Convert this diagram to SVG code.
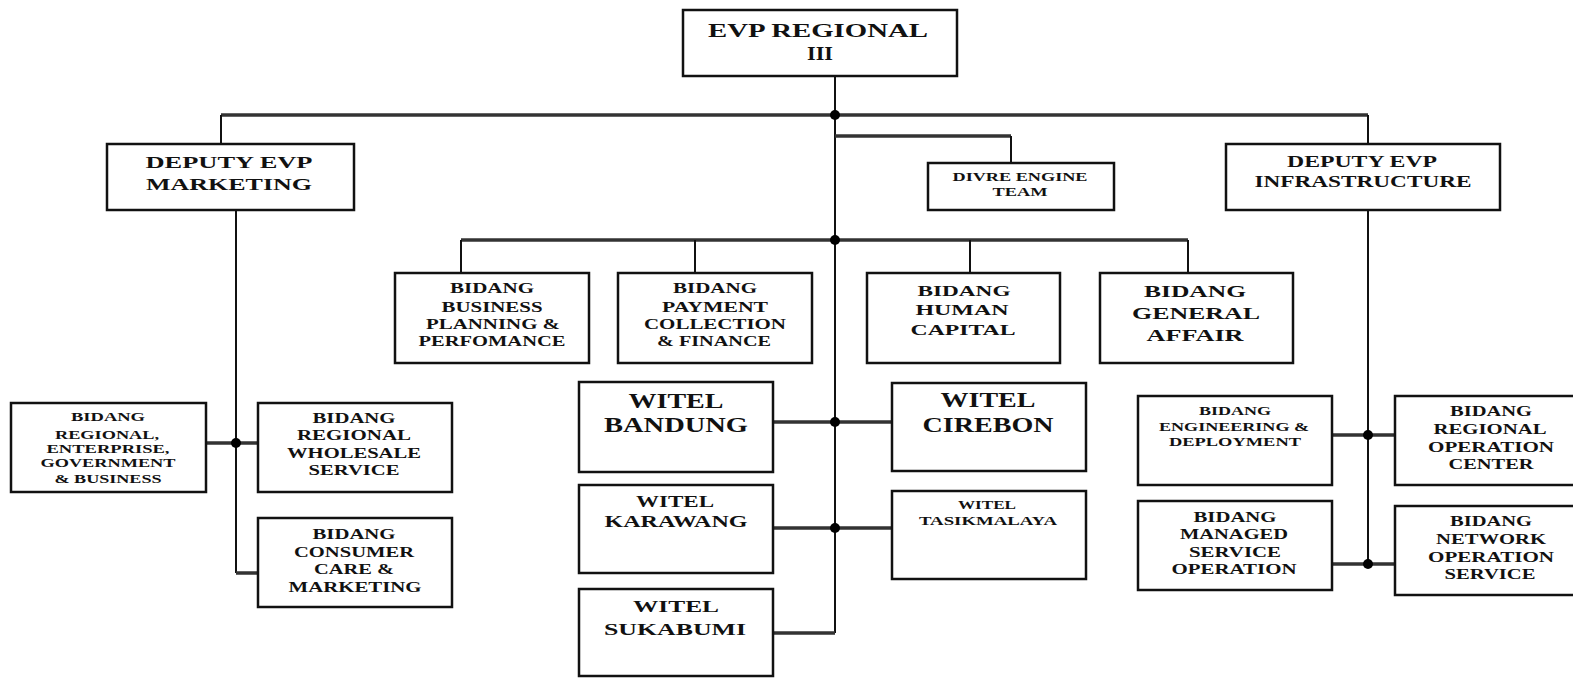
<svg xmlns="http://www.w3.org/2000/svg" width="1573" height="678" viewBox="0 0 1573 678">
<style>
.box{fill:#fff;stroke:#111;stroke-width:2.5}
.t{font-family:"Liberation Serif","Times New Roman",serif;font-weight:bold;fill:#111;text-anchor:middle;dominant-baseline:central}
.h{fill:none;stroke:#333;stroke-width:3.5}
.v{fill:none;stroke:#111;stroke-width:2}
.dot{fill:#000}
</style>
<rect width="1573" height="678" fill="#fff"/>
<g id="connectors">
<path class="v" d="M835 76V633"/>
<path class="h" d="M221 115H1368"/>
<path class="v" d="M221 115V144M1368 115V144"/>
<path class="h" d="M835 136H1011"/>
<path class="v" d="M1011 136V163"/>
<path class="h" d="M461 240H1188"/>
<path class="v" d="M461 240V273M695 240V273M970 240V273M1188 240V273"/>
<path class="v" d="M236 210V573"/>
<path class="h" d="M206 443H258M236 573H258"/>
<path class="h" d="M773 422H892M773 528H892M773 633H835"/>
<path class="v" d="M1368 210V564"/>
<path class="h" d="M1332 435H1395M1332 564H1395"/>
<circle class="dot" cx="835" cy="115" r="5"/>
<circle class="dot" cx="835" cy="240" r="5"/>
<circle class="dot" cx="236" cy="443" r="5"/>
<circle class="dot" cx="835" cy="422" r="5"/>
<circle class="dot" cx="835" cy="528" r="5"/>
<circle class="dot" cx="1368" cy="435" r="5"/>
<circle class="dot" cx="1368" cy="564" r="5"/>
</g>
<g id="evp">
<rect class="box" x="683" y="10" width="274" height="66"/>
<text class="t" font-size="19" x="818" y="30" textLength="220" lengthAdjust="spacingAndGlyphs">EVP REGIONAL</text>
<text class="t" font-size="19" x="820" y="53" textLength="26" lengthAdjust="spacingAndGlyphs">III</text>
</g>
<g id="deputy-marketing">
<rect class="box" x="107" y="144" width="247" height="66"/>
<text class="t" font-size="17" x="229" y="162" textLength="167" lengthAdjust="spacingAndGlyphs">DEPUTY EVP</text>
<text class="t" font-size="17" x="229" y="184" textLength="166" lengthAdjust="spacingAndGlyphs">MARKETING</text>
</g>
<g id="divre-engine">
<rect class="box" x="928" y="163" width="186" height="47"/>
<text class="t" font-size="12" x="1020" y="177" textLength="135" lengthAdjust="spacingAndGlyphs">DIVRE ENGINE</text>
<text class="t" font-size="12" x="1020" y="192" textLength="55" lengthAdjust="spacingAndGlyphs">TEAM</text>
</g>
<g id="deputy-infra">
<rect class="box" x="1226" y="144" width="274" height="66"/>
<text class="t" font-size="17" x="1362" y="161" textLength="150" lengthAdjust="spacingAndGlyphs">DEPUTY EVP</text>
<text class="t" font-size="17" x="1363" y="181" textLength="217" lengthAdjust="spacingAndGlyphs">INFRASTRUCTURE</text>
</g>
<g id="bidang-business">
<rect class="box" x="395" y="273" width="194" height="90"/>
<text class="t" font-size="14" x="492" y="288" textLength="84" lengthAdjust="spacingAndGlyphs">BIDANG</text>
<text class="t" font-size="14" x="492" y="307" textLength="101" lengthAdjust="spacingAndGlyphs">BUSINESS</text>
<text class="t" font-size="14" x="493" y="324" textLength="134" lengthAdjust="spacingAndGlyphs">PLANNING &amp;</text>
<text class="t" font-size="14" x="492" y="341" textLength="147" lengthAdjust="spacingAndGlyphs">PERFOMANCE</text>
</g>
<g id="bidang-payment">
<rect class="box" x="618" y="273" width="194" height="90"/>
<text class="t" font-size="14" x="715" y="288" textLength="84" lengthAdjust="spacingAndGlyphs">BIDANG</text>
<text class="t" font-size="14" x="715" y="307" textLength="106" lengthAdjust="spacingAndGlyphs">PAYMENT</text>
<text class="t" font-size="14" x="715" y="324" textLength="142" lengthAdjust="spacingAndGlyphs">COLLECTION</text>
<text class="t" font-size="14" x="714" y="341" textLength="114" lengthAdjust="spacingAndGlyphs">&amp; FINANCE</text>
</g>
<g id="bidang-human">
<rect class="box" x="867" y="273" width="193" height="90"/>
<text class="t" font-size="15" x="964" y="290.5" textLength="93" lengthAdjust="spacingAndGlyphs">BIDANG</text>
<text class="t" font-size="15" x="962" y="310" textLength="93" lengthAdjust="spacingAndGlyphs">HUMAN</text>
<text class="t" font-size="15" x="963" y="329.5" textLength="105" lengthAdjust="spacingAndGlyphs">CAPITAL</text>
</g>
<g id="bidang-general">
<rect class="box" x="1100" y="273" width="193" height="90"/>
<text class="t" font-size="17" x="1195" y="291.5" textLength="102" lengthAdjust="spacingAndGlyphs">BIDANG</text>
<text class="t" font-size="17" x="1196" y="313" textLength="128" lengthAdjust="spacingAndGlyphs">GENERAL</text>
<text class="t" font-size="17" x="1195" y="335" textLength="97" lengthAdjust="spacingAndGlyphs">AFFAIR</text>
</g>
<g id="bidang-regional-enterprise">
<rect class="box" x="11" y="403" width="195" height="89"/>
<text class="t" font-size="12" x="108" y="416.5" textLength="74" lengthAdjust="spacingAndGlyphs">BIDANG</text>
<text class="t" font-size="12" x="107" y="434.5" textLength="104" lengthAdjust="spacingAndGlyphs">REGIONAL,</text>
<text class="t" font-size="12" x="108" y="449" textLength="123" lengthAdjust="spacingAndGlyphs">ENTERPRISE,</text>
<text class="t" font-size="12" x="108" y="462.5" textLength="135" lengthAdjust="spacingAndGlyphs">GOVERNMENT</text>
<text class="t" font-size="12" x="108" y="478.5" textLength="107" lengthAdjust="spacingAndGlyphs">&amp; BUSINESS</text>
</g>
<g id="bidang-wholesale">
<rect class="box" x="258" y="403" width="194" height="89"/>
<text class="t" font-size="14" x="354" y="418" textLength="83" lengthAdjust="spacingAndGlyphs">BIDANG</text>
<text class="t" font-size="14" x="354" y="435.5" textLength="114" lengthAdjust="spacingAndGlyphs">REGIONAL</text>
<text class="t" font-size="14" x="354" y="453" textLength="134" lengthAdjust="spacingAndGlyphs">WHOLESALE</text>
<text class="t" font-size="14" x="354" y="470.5" textLength="91" lengthAdjust="spacingAndGlyphs">SERVICE</text>
</g>
<g id="bidang-consumer">
<rect class="box" x="258" y="518" width="194" height="89"/>
<text class="t" font-size="14" x="354" y="534" textLength="83" lengthAdjust="spacingAndGlyphs">BIDANG</text>
<text class="t" font-size="14" x="354" y="552" textLength="120" lengthAdjust="spacingAndGlyphs">CONSUMER</text>
<text class="t" font-size="14" x="354" y="569.5" textLength="80" lengthAdjust="spacingAndGlyphs">CARE &amp;</text>
<text class="t" font-size="14" x="355" y="587.5" textLength="133" lengthAdjust="spacingAndGlyphs">MARKETING</text>
</g>
<g id="witel-bandung">
<rect class="box" x="579" y="382" width="194" height="90"/>
<text class="t" font-size="21" x="676" y="400.5" textLength="95" lengthAdjust="spacingAndGlyphs">WITEL</text>
<text class="t" font-size="21" x="676" y="424.5" textLength="144" lengthAdjust="spacingAndGlyphs">BANDUNG</text>
</g>
<g id="witel-karawang">
<rect class="box" x="579" y="485" width="194" height="88"/>
<text class="t" font-size="17" x="675" y="501.5" textLength="78" lengthAdjust="spacingAndGlyphs">WITEL</text>
<text class="t" font-size="17" x="676" y="521" textLength="143" lengthAdjust="spacingAndGlyphs">KARAWANG</text>
</g>
<g id="witel-sukabumi">
<rect class="box" x="579" y="589" width="194" height="87"/>
<text class="t" font-size="17" x="676" y="606.5" textLength="86" lengthAdjust="spacingAndGlyphs">WITEL</text>
<text class="t" font-size="17" x="675" y="629" textLength="142" lengthAdjust="spacingAndGlyphs">SUKABUMI</text>
</g>
<g id="witel-cirebon">
<rect class="box" x="892" y="383" width="194" height="88"/>
<text class="t" font-size="21" x="988" y="400" textLength="95" lengthAdjust="spacingAndGlyphs">WITEL</text>
<text class="t" font-size="21" x="988" y="424.5" textLength="131" lengthAdjust="spacingAndGlyphs">CIREBON</text>
</g>
<g id="witel-tasikmalaya">
<rect class="box" x="892" y="491" width="194" height="88"/>
<text class="t" font-size="12" x="987" y="505" textLength="58" lengthAdjust="spacingAndGlyphs">WITEL</text>
<text class="t" font-size="12" x="988" y="520.5" textLength="138" lengthAdjust="spacingAndGlyphs">TASIKMALAYA</text>
</g>
<g id="bidang-engineering">
<rect class="box" x="1138" y="396" width="194" height="89"/>
<text class="t" font-size="12" x="1235" y="410.5" textLength="72" lengthAdjust="spacingAndGlyphs">BIDANG</text>
<text class="t" font-size="12" x="1234" y="427" textLength="150" lengthAdjust="spacingAndGlyphs">ENGINEERING &amp;</text>
<text class="t" font-size="12" x="1235" y="442" textLength="132" lengthAdjust="spacingAndGlyphs">DEPLOYMENT</text>
</g>
<g id="bidang-managed">
<rect class="box" x="1138" y="501" width="194" height="89"/>
<text class="t" font-size="15" x="1235" y="516.5" textLength="83" lengthAdjust="spacingAndGlyphs">BIDANG</text>
<text class="t" font-size="15" x="1234" y="533.5" textLength="108" lengthAdjust="spacingAndGlyphs">MANAGED</text>
<text class="t" font-size="15" x="1235" y="551.5" textLength="92" lengthAdjust="spacingAndGlyphs">SERVICE</text>
<text class="t" font-size="15" x="1234" y="569" textLength="125" lengthAdjust="spacingAndGlyphs">OPERATION</text>
</g>
<g id="bidang-roc">
<rect class="box" x="1395" y="396" width="185" height="89"/>
<text class="t" font-size="15" x="1491" y="411" textLength="82" lengthAdjust="spacingAndGlyphs">BIDANG</text>
<text class="t" font-size="15" x="1490" y="429" textLength="113" lengthAdjust="spacingAndGlyphs">REGIONAL</text>
<text class="t" font-size="15" x="1491" y="447" textLength="126" lengthAdjust="spacingAndGlyphs">OPERATION</text>
<text class="t" font-size="15" x="1491" y="464" textLength="85" lengthAdjust="spacingAndGlyphs">CENTER</text>
</g>
<g id="bidang-nos">
<rect class="box" x="1395" y="506" width="185" height="89"/>
<text class="t" font-size="15" x="1491" y="520.5" textLength="82" lengthAdjust="spacingAndGlyphs">BIDANG</text>
<text class="t" font-size="15" x="1491" y="538.5" textLength="110" lengthAdjust="spacingAndGlyphs">NETWORK</text>
<text class="t" font-size="15" x="1491" y="556.5" textLength="126" lengthAdjust="spacingAndGlyphs">OPERATION</text>
<text class="t" font-size="15" x="1490" y="574" textLength="91" lengthAdjust="spacingAndGlyphs">SERVICE</text>
</g>
</svg>
